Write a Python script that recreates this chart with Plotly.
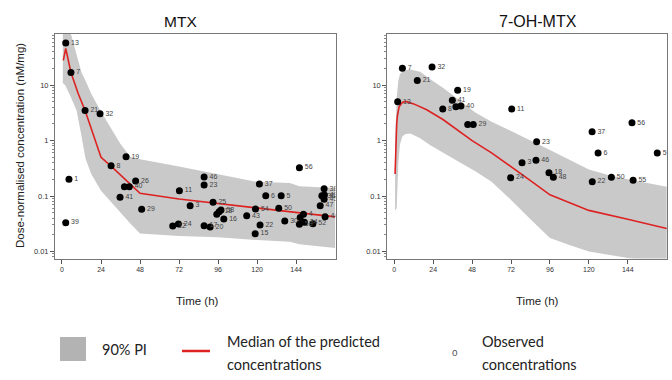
import plotly.graph_objects as go

# ---------------- data ----------------
# MTX observed
mtx_ids = ["13", "7", "21", "32", "19", "8", "1", "26", "", "40", "41", "29", "39", "11", "3", "24", "12",
           "46", "23", "25", "", "18", "58", "16", "17", "20", "37", "6", "5", "54", "50", "43", "22", "15",
           "30", "56", "4", "", "53", "34", "52", "47", "38", "36", "49", "45", "44"]
mtx_time = [2.3, 5.5, 14.2, 23.4, 39.4, 30.2, 4.3, 45.3, 38.4, 41.4, 35.7, 49, 2.3, 72.2, 78.8, 71.6, 68.1,
            87.4, 87.4, 92.9, 95.2, 96.6, 97.8, 99.5, 87.4, 91.1, 121.4, 125.3, 134.8, 119, 133.3, 113.6, 121.8, 118.8,
            137, 146, 148.5, 146.5, 146, 149.1, 154.3, 158.8, 161.2, 159.8, 161.4, 161.2, 161.8]
mtx_conc = [58, 17, 3.5, 3.05, 0.51, 0.35, 0.2, 0.187, 0.147, 0.147, 0.095, 0.0575, 0.033, 0.125, 0.067, 0.0313, 0.0288,
            0.22, 0.158, 0.077, 0.047, 0.052, 0.056, 0.0385, 0.0291, 0.0276, 0.165, 0.101, 0.101, 0.058, 0.06, 0.044, 0.030, 0.0209,
            0.0354, 0.324, 0.047, 0.041, 0.031, 0.0335, 0.0317, 0.0668, 0.135, 0.101, 0.104, 0.087, 0.0424]

# MTX median prediction
mtx_med_time = [0.8, 2.3, 5.5, 10, 14.2, 20, 24, 30, 36, 42, 48, 72, 96, 120, 144, 168]
mtx_med_conc = [28, 46, 17, 7, 3.5, 1.1, 0.5, 0.35, 0.24, 0.164, 0.112, 0.088, 0.073, 0.06, 0.05, 0.042]

# MTX 90% prediction interval
mtx_pi_time = [0.5, 2, 5, 9, 12, 14.5, 18, 24, 36, 42, 48, 72, 96, 120, 140, 146, 168]
mtx_pi_low = [11, 10, 6.5, 3.5, 1.2, 0.47, 0.25, 0.125, 0.05, 0.032, 0.021, 0.019, 0.018, 0.016, 0.015, 0.0135, 0.0115]
mtx_pi_high = [150, 200, 95, 35, 17, 12, 7, 3.3, 0.87, 0.51, 0.46, 0.34, 0.25, 0.18, 0.172, 0.15, 0.14]

# 7-OH-MTX observed
oh_ids = ["7", "32", "21", "13", "19", "41", "8", "", "40", "", "29", "11", "23", "46", "3", "24", "18", "48",
          "37", "56", "6", "57", "22", "50", "55"]
oh_time = [5, 23.3, 14.2, 2.1, 39.1, 35.8, 29.9, 38, 41.1, 45.3, 48.7, 72.4, 87.8, 87.4, 78.8, 71.8, 95.4, 98.1,
           122, 146.6, 125.7, 162.2, 122.1, 133.9, 147.3]
oh_conc = [20.2, 21.4, 12.2, 5.0, 8.1, 5.37, 3.7, 4.1, 4.2, 1.96, 1.96, 3.7, 0.95, 0.44, 0.4, 0.214, 0.263, 0.217,
           1.44, 2.09, 0.6, 0.6, 0.181, 0.217, 0.192]

# 7-OH-MTX median prediction
oh_med_time = [0.5, 1, 1.5, 2, 3, 5, 7, 12, 20, 30, 40, 48, 60, 72, 84, 96, 120, 144, 168]
oh_med_conc = [0.25, 0.9, 2.0, 2.9, 4.1, 4.9, 5.1, 4.6, 3.6, 2.4, 1.5, 1.0, 0.6, 0.34, 0.19, 0.105, 0.055, 0.038, 0.026]

# 7-OH-MTX 90% prediction interval
oh_pi_time = [0.5, 1.5, 2.5, 3.5, 5, 7, 10, 16, 22, 30, 40, 50, 60, 72, 84, 96, 108, 120, 132, 144, 168]
oh_pi_low = [0.055, 0.06, 0.4, 0.85, 1.2, 1.32, 1.35, 1.1, 0.83, 0.6, 0.41, 0.28, 0.18, 0.085, 0.038, 0.0174,
             0.013, 0.01, 0.0087, 0.0076, 0.006]
oh_pi_high = [1.0, 6, 12, 16, 17.5, 18.7, 19.2, 17.4, 13, 9, 5.4, 3.2, 2.2, 1.5, 1.0, 0.68, 0.45, 0.3, 0.24, 0.2, 0.147]

x_ticks = [0, 24, 48, 72, 96, 120, 144]
y_ticks = [0.01, 0.1, 1, 10]
y_tick_text = ["0.01", "0.1", "1", "10"]
y_minor_ticks = [m * d for d in [0.001, 0.01, 0.1, 1, 10] for m in range(2, 10)]

# ---------------- styling ----------------
W, H = 672, 380
BAND = "#c9c9c9"
RED = "#dd2222"
FONT = "Liberation Sans"


def px_x(p):
    return p / W


def px_y(p):
    return 1 - p / H


fig = go.Figure()


def add_panel(xa, ya, t_pi, lo, hi, t_med, med, t_obs, c_obs, ids):
    fig.add_trace(go.Scatter(x=list(t_pi) + list(t_pi)[::-1], y=list(hi) + list(lo)[::-1],
                             fill="toself", fillcolor=BAND, line=dict(width=0), mode="lines",
                             hoverinfo="skip", showlegend=False, xaxis=xa, yaxis=ya))
    fig.add_trace(go.Scatter(x=t_med, y=med, mode="lines", line=dict(color=RED, width=1.6),
                             showlegend=False, xaxis=xa, yaxis=ya))
    fig.add_trace(go.Scatter(x=t_obs, y=c_obs, mode="markers+text", text=ids,
                             textposition="middle right",
                             textfont=dict(family=FONT, size=7, color="#444444"),
                             marker=dict(color="black", size=7), cliponaxis=True,
                             showlegend=False, xaxis=xa, yaxis=ya))


add_panel("x", "y", mtx_pi_time, mtx_pi_low, mtx_pi_high, mtx_med_time, mtx_med_conc,
          mtx_time, mtx_conc, mtx_ids)
add_panel("x2", "y2", oh_pi_time, oh_pi_low, oh_pi_high, oh_med_time, oh_med_conc,
          oh_time, oh_conc, oh_ids)

xr = [-4.3, 168.2]
yr = [-2.128, 1.924]
ydom = [px_y(258.5), px_y(34)]

xcommon = dict(range=xr, tickmode="array", tickvals=x_ticks, ticks="outside", ticklen=4,
               tickcolor="#555", showline=True, mirror=True, linecolor="#777", linewidth=1,
               showgrid=False, zeroline=False,
               tickfont=dict(family=FONT, size=7, color="#333"))
ycommon = dict(type="log", range=yr, tickmode="array", tickvals=y_ticks, ticktext=y_tick_text,
               ticks="outside", ticklen=4, tickcolor="#555", showline=True, mirror=True,
               linecolor="#777", linewidth=1, showgrid=False, zeroline=False,
               tickfont=dict(family=FONT, size=7.5, color="#333"),
               minor=dict(tickmode="array", tickvals=y_minor_ticks, ticks="outside", ticklen=2,
                          tickcolor="#888", showgrid=False))

fig.update_layout(
    width=W, height=H, autosize=False,
    margin=dict(l=0, r=0, t=0, b=0),
    paper_bgcolor="white", plot_bgcolor="white",
    xaxis=dict(domain=[px_x(55), px_x(335.5)], anchor="y", **xcommon),
    yaxis=dict(domain=ydom, anchor="x", **ycommon),
    xaxis2=dict(domain=[px_x(387.3), px_x(667)], anchor="y2", **xcommon),
    yaxis2=dict(domain=ydom, anchor="x2", **ycommon),
)

ann = []
# panel titles
ann.append(dict(text="MTX", x=px_x(180), y=px_y(22), font=dict(family=FONT, size=15.5, color="#111")))
ann.append(dict(text="7-OH-MTX", x=px_x(538), y=px_y(22), font=dict(family=FONT, size=16, color="#111")))
# axis titles
ann.append(dict(text="Time (h)", x=px_x(197), y=px_y(301), font=dict(family=FONT, size=11.5, color="#222")))
ann.append(dict(text="Time (h)", x=px_x(537), y=px_y(301), font=dict(family=FONT, size=11.5, color="#222")))
ann.append(dict(text="Dose-normalised concentration (nM/mg)", x=px_x(20), y=px_y(146), textangle=-90,
                font=dict(family=FONT, size=11.5, color="#222")))
# legend texts
LF = dict(family="Lato", size=14.5, color="#222")
ann.append(dict(text="90% PI", x=px_x(100), y=px_y(349), xanchor="left", font=LF))
ann.append(dict(text="Median of the predicted", x=px_x(225), y=px_y(341), xanchor="left", font=LF))
ann.append(dict(text="concentrations", x=px_x(225), y=px_y(364), xanchor="left", font=LF))
ann.append(dict(text="o", x=px_x(455), y=px_y(352), font=dict(family=FONT, size=10, color="#555")))
ann.append(dict(text="Observed", x=px_x(480), y=px_y(341), xanchor="left", font=LF))
ann.append(dict(text="concentrations", x=px_x(480), y=px_y(364), xanchor="left", font=LF))
for a in ann:
    a.setdefault("xanchor", "center")
    a.update(xref="paper", yref="paper", yanchor="middle", showarrow=False)
fig.update_layout(annotations=ann)

fig.update_layout(shapes=[
    dict(type="rect", xref="paper", yref="paper", x0=px_x(60), x1=px_x(86), y0=px_y(361), y1=px_y(337),
         fillcolor="#b3b3b3", line=dict(width=0)),
    dict(type="line", xref="paper", yref="paper", x0=px_x(182), x1=px_x(210), y0=px_y(351), y1=px_y(351),
         line=dict(color=RED, width=2.5)),
])

fig.write_html("out.html", config={"displayModeBar": False},
               post_script="document.body.style.margin='0';document.body.style.overflow='hidden';")
